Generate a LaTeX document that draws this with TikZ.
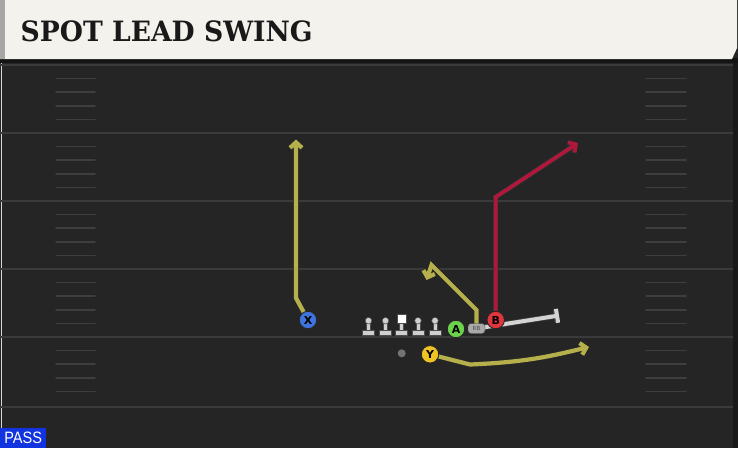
\documentclass[tikz,border=0pt]{standalone}
\usepackage{fontspec}
\setmainfont{Liberation Sans}
\newfontfamily\titlefont{DejaVu Serif}
\newfontfamily\lblfont{DejaVu Sans}
\usetikzlibrary{arrows.meta,calc}
\pgfdeclarelayer{field}
\pgfdeclarelayer{bg}
\pgfsetlayers{field,bg,main}
\definecolor{fieldbg}{HTML}{252525}
\definecolor{headbg}{HTML}{F4F2EC}
\definecolor{yardline}{HTML}{3A3A3A}
\definecolor{hashc}{HTML}{3E3E3E}
\definecolor{routeY}{HTML}{B5B04B}
\definecolor{routeR}{HTML}{B0173A}
\definecolor{blockc}{HTML}{D4D4D4}
\definecolor{lmgray}{HTML}{CFCFCF}
\definecolor{xblue}{HTML}{3F74DC}
\definecolor{agreen}{HTML}{6CD24C}
\definecolor{bred}{HTML}{E2363E}
\definecolor{yyellow}{HTML}{F0C324}
\definecolor{rbgray}{HTML}{A9A9A9}
\definecolor{passblue}{HTML}{1233E0}
\begin{document}
\begin{tikzpicture}[x=1pt,y=-1pt,
  player/.style={circle, minimum size=17.5pt, inner sep=0pt, draw=black!85, line width=0.9pt,
    font=\lblfont\bfseries\fontsize{11}{11}\selectfont, text=black},
  yroute/.style={draw=routeY, line width=4.2pt, line join=miter,
    -{Straight Barb[length=5.5pt,width=12pt]},
    preaction={draw=black!85, line width=5.8pt}},
  rroute/.style={draw=routeR, line width=3.6pt, line join=miter,
    -{Straight Barb[length=5.5pt,width=12pt]},
    preaction={draw=black!80, line width=5pt}},
  blockline/.style={draw=blockc, line width=4pt,
    -{Bar[width=14pt]},
    preaction={draw=black!75, line width=5.4pt}},
  yard/.style={draw=yardline, line width=2pt},
  hash/.style={draw=hashc, line width=1.5pt, line cap=round},
  lineman/.pic={
    \fill[lmgray, draw=black!70, line width=0.5pt] (-6,9.5) rectangle (6,14.5);
    \fill[lmgray, draw=black!70, line width=0.5pt] (-2,1) rectangle (2,9.5);
    \fill[lmgray, draw=black!70, line width=0.5pt] (0,0) circle (3.3);
  },
  centerman/.pic={
    \fill[lmgray, draw=black!70, line width=0.5pt] (-6,11.5) rectangle (6,16.5);
    \fill[lmgray, draw=black!70, line width=0.5pt] (-2,4.5) rectangle (2,11.5);
    \fill[white, draw=black!70, line width=0.5pt] (-4.5,-4.5) rectangle (4.5,4.5);
  }
]
\useasboundingbox (0,0) rectangle (738,448);
\begin{pgfonlayer}{field}
% field
\fill[fieldbg] (0,0) rectangle (738,448);
\fill[black!90] (733,60) rectangle (738,448);
\draw[black!80!white!20, line width=1pt] (1.5,62) -- (1.5,448);
% yard lines
\foreach \yy in {65,133,201,269,337,407} {
  \draw[yard] (0,\yy) -- (733,\yy);
}
% hash marks
\foreach \base in {65,133,201,269,337} {
  \foreach \k in {1,2,3,4} {
    \draw[hash] (56,\base+13.6*\k) -- (95,\base+13.6*\k);
    \draw[hash] (646,\base+13.6*\k) -- (686,\base+13.6*\k);
  }
}
% header
\fill[black!92] (0,58) rectangle (738,63);
\fill[headbg] (0,0) -- (737,0) -- (737,48) -- (732,59) -- (0,59) -- cycle;
\fill[black!35] (0,0) rectangle (5,59);
\end{pgfonlayer}
\node[anchor=base west, inner sep=0pt, text=black!90, xscale=0.95,
  font=\titlefont\bfseries\fontsize{28}{28}\selectfont] (title) at (20.5,41.8) {SPOT LEAD SWING};
% linemen
\pic (lt) at (368.5,320.7) {lineman};
\pic (lg) at (385.5,320.7) {lineman};
\pic (ctr) at (401.5,318.5) {centerman};
\pic (rg) at (418,320.7) {lineman};
\pic (rt) at (435,320.7) {lineman};
% players
\node[circle, fill=black!55, minimum size=8pt, inner sep=0pt] (qb) at (401.7,353.3) {};
\node[player, fill=xblue] (X) at (308,320) {X};
\node[player, fill=agreen] (A) at (456,329) {A};
\node[draw=black!75, fill=rbgray, rounded corners=3pt, minimum width=17pt, minimum height=10pt,
  inner sep=0pt, text=black!70, font=\lblfont\fontsize{5.5}{5.5}\selectfont] (RB) at (476.5,328.5) {RB};
\node[player, fill=bred] (B) at (495.7,320) {B};
\node[player, fill=yyellow] (Y) at (430,354.3) {Y};
% route points
\coordinate (x1) at (296,298);
\coordinate (x2) at (296,139.5);
\coordinate (r1) at (476.5,310);
\coordinate (r2) at (431.5,265);
\coordinate (r3) at (426.5,280);
\coordinate (b1) at (495.7,197);
\coordinate (b2) at (578,143);
\coordinate (y1) at (470,364.5);
\coordinate (y2) at (589,347);
\coordinate (blk) at (559,315.5);
\begin{pgfonlayer}{bg}
\draw[yroute] (X.center) -- (x1) -- (x2);
\draw[yroute] (RB.center) -- (r1) -- (r2) -- (r3);
\draw[rroute] (B.center) -- (b1) -- (b2);
\draw[yroute] (Y.center) -- (y1) .. controls (530,362) and (555,355) .. (y2);
\draw[blockline] (RB.center) -- (blk);
\end{pgfonlayer}
% pass label
\node[anchor=south west, fill=passblue, minimum width=46pt, minimum height=20pt, inner sep=0pt,
  text=white, font=\fontsize{16.5}{16.5}\selectfont] (pass) at (0,448) {\scalebox{0.88}[1]{PASS}};
\end{tikzpicture}
\end{document}
